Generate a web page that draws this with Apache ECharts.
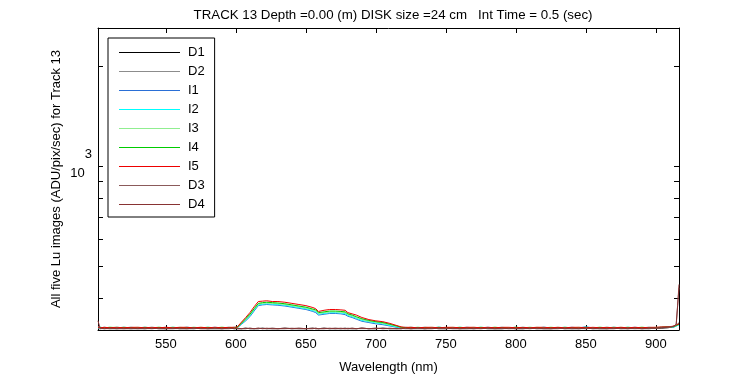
<!DOCTYPE html>
<html>
<head>
<meta charset="utf-8">
<script src="https://cdn.jsdelivr.net/npm/echarts@6/dist/echarts.min.js"></script>
<style>html,body{margin:0;padding:0;background:#fff;}#c{width:750px;height:375px;}</style>
</head>
<body>
<div id="c"></div>
<script>
const titleText = 'TRACK 13 Depth =0.00 (m) DISK size =24 cm   Int Time = 0.5 (sec)';
const xName = 'Wavelength (nm)';
const yName = 'All five Lu images (ADU/pix/sec) for Track 13';
const seriesNames = ['D1','D2','I1','I2','I3','I4','I5','D3','D4'];
const seriesColors = ['#000000','#8c8c8c','#2a6fd6','#00ffff','#90ee90','#00cc00','#ee0000','#8b5a5a','#883333'];
const xTicks = [550,600,650,700,750,800,850,900];
const yTicks = [400,500,600,700,800,900,1000,2000];
const yLabelTicks = [1000];

const wavelengths = [501.5,503,506,510,515,520,525,530,535,540,
 545,550,555,560,565,570,575,580,585,590,
 595,599,601,604,607,610,613,616,619,622,
 626,630,635,640,645,650,655,657,659,663,
 667,671,675,678,680,683,686,690,695,700,
 705,710,715,718,721,725,730,735,740,745,
 750,755,760,765,770,775,780,785,790,795,
 800,805,810,815,820,825,830,835,840,845,
 850,855,860,865,870,875,880,885,890,895,
 900,904,908,911,913,914.5,915.5,916.5];

const D1 = [324,324,325,324,324,325,324,324,324,325,
 324,324,325,324,324,324,325,324,324,324,
 325,324,324,324,325,324,324,324,325,324,
 324,324,325,324,324,324,325,324,324,325,
 324,324,324,325,324,324,324,325,324,324,
 325,324,324,324,325,324,324,324,325,324,
 324,325,324,324,324,325,324,324,324,325,
 324,324,325,324,324,324,325,324,324,324,
 325,324,324,324,325,324,324,325,324,324,
 325,325,326,327,328,331,334,336];
const D2 = [325,324,324,325,324,324,324,325,324,324,
 325,324,324,324,325,324,325,324,324,324,
 324,325,324,324,324,325,324,324,325,324,
 325,324,324,324,325,324,324,325,324,324,
 324,325,324,324,324,325,324,324,324,325,
 324,324,325,324,324,324,325,324,324,325,
 324,324,324,325,324,325,324,324,324,324,
 325,324,324,325,324,324,324,325,324,324,
 324,325,324,324,324,325,324,324,325,324,
 325,326,326,327,329,332,336,338];
const I1 = [326,326,327,326,326,327,326,326,327,326,
 326,327,326,326,327,326,326,326,327,326,
 326,327,326,334,342,352,366,380,382,383,
 382,381,379,376,373,370,365,362,356,358,
 360,360,359,357,353,350,346,341,338,335,
 333,330,327,326,326,327,326,326,326,327,
 326,326,326,327,326,326,327,326,326,326,
 327,326,326,326,327,326,326,326,327,326,
 328,326,326,326,327,326,326,327,326,326,
 326,327,328,328,329,330,332,333];
const I2 = [326,327,326,326,327,326,327,326,326,327,
 326,326,327,326,327,326,326,327,326,326,
 327,326,327,335,344,354,368,382,384,385,
 384,383,381,378,375,372,367,365,358,360,
 362,362,361,360,355,352,348,343,340,337,
 335,331,328,326,327,326,326,327,326,327,
 326,326,327,326,326,327,326,326,327,326,
 326,327,326,326,327,326,326,327,326,326,
 327,326,326,327,326,326,327,326,326,327,
 326,327,327,328,328,330,332,333];
const I3 = [327,326,326,327,327,326,326,327,326,326,
 327,326,326,327,326,326,327,326,326,327,
 326,327,327,336,345,356,370,384,386,387,
 386,385,383,380,377,374,369,367,360,362,
 364,364,363,362,357,354,350,345,341,339,
 336,333,329,327,326,327,326,326,327,326,
 326,327,326,326,327,326,326,327,326,326,
 327,326,326,327,326,326,327,326,326,327,
 326,326,327,326,326,327,326,326,327,326,
 327,327,327,328,329,331,333,334];
const I4 = [326,327,326,327,326,327,326,326,327,326,
 327,326,327,326,326,327,326,327,326,327,
 326,326,327,337,347,358,372,386,388,389,
 388,387,385,382,379,376,371,369,362,364,
 366,366,365,364,359,356,352,347,343,340,
 338,334,330,327,326,326,327,326,326,327,
 326,326,327,326,326,327,326,327,326,326,
 327,326,327,326,326,327,326,327,326,326,
 327,326,327,326,327,326,327,326,327,326,
 326,327,328,328,329,331,333,334];
const I5 = [327,326,327,326,327,326,327,327,326,327,
 326,327,326,327,327,326,327,326,327,326,
 327,327,328,339,350,362,377,391,392,393,
 391,391,389,386,383,380,375,372,365,368,
 370,370,369,368,362,359,356,350,345,342,
 340,336,331,328,327,327,326,327,327,326,
 327,327,326,327,327,326,327,326,327,327,
 326,327,326,327,327,326,327,326,327,327,
 326,327,326,327,326,327,326,327,326,327,
 327,328,328,329,330,332,334,335];
const D3 = [330,325,324,324,325,324,324,325,324,325,
 324,324,325,324,324,325,324,324,325,324,
 324,325,324,324,325,324,324,325,324,324,
 325,324,324,325,324,324,325,324,324,325,
 324,325,324,324,325,324,324,325,324,324,
 325,324,324,325,324,324,325,324,325,324,
 324,325,324,324,325,324,325,324,324,325,
 324,324,325,324,325,324,324,325,324,325,
 324,325,324,324,325,324,325,324,324,325,
 325,326,327,328,330,333,378,430];
const D4 = [342,325,324,325,324,324,325,324,325,324,
 325,324,324,325,324,325,324,324,325,324,
 325,324,325,324,324,325,324,325,324,325,
 324,324,325,324,325,324,324,325,324,324,
 325,324,325,324,324,325,324,325,324,325,
 324,325,324,324,325,324,325,324,324,325,
 325,324,324,325,324,324,325,324,325,324,
 324,325,324,325,324,324,325,324,325,324,
 325,324,325,324,324,325,324,325,324,325,
 325,326,327,328,330,334,380,440];

const seriesValues = [D1,D2,I1,I2,I3,I4,I5,D3,D4];
const FONT = '"Liberation Sans", Arial, Helvetica, sans-serif';

const chart = echarts.init(document.getElementById('c'), null, {renderer:'canvas'});

const series = seriesNames.map((name, k) => ({
  name: name,
  type: 'line',
  xAxisIndex: 0,
  yAxisIndex: 0,
  symbol: 'none',
  showSymbol: false,
  color: seriesColors[k],
  itemStyle: {color: seriesColors[k]},
  lineStyle: {color: seriesColors[k], width: 1},
  data: wavelengths.map((w, i) => [w, seriesValues[k][i]]),
  z: 2 + k
}));

const xMin = 501.5, xMax = 916.5, yMin = 321, yMax = 2600;

const axisCommonX = {
  type: 'value', min: xMin, max: xMax,
  axisLine: {show: true, onZero: false, lineStyle: {color: '#000', width: 1}},
  axisTick: {show: true, inside: true, length: 5, customValues: xTicks, lineStyle: {color: '#000', width: 1}},
  splitLine: {show: false}
};
const axisCommonY = {
  type: 'log', logBase: 10, min: yMin, max: yMax,
  axisLine: {show: true, onZero: false, lineStyle: {color: '#000', width: 1}},
  axisTick: {show: true, inside: true, length: 5, customValues: yTicks, lineStyle: {color: '#000', width: 1}},
  splitLine: {show: false},
  minorTick: {show: false}
};

chart.setOption({
  animation: false,
  backgroundColor: '#fff',
  textStyle: {fontFamily: FONT},
  title: {
    text: titleText, left: 388, textAlign: 'center', top: 4,
    textStyle: {fontSize: 13.3, fontWeight: 'normal', color: '#000', fontFamily: FONT}
  },
  grid: {left: 98, right: 71, top: 28, bottom: 45, show: false, outerBoundsMode: 'none', containLabel: false},
  legend: {
    orient: 'vertical', left: 108, top: 38,
    padding: [8, 10, 6, 11],
    icon: 'rect',
    itemWidth: 61, itemHeight: 1, itemGap: 6,
    borderColor: '#000', borderWidth: 1, backgroundColor: '#fff',
    textStyle: {fontSize: 13, color: '#000', fontFamily: FONT, padding: [0, 0, 0, 3]},
    data: seriesNames
  },
  xAxis: [
    Object.assign({}, axisCommonX, {
      position: 'bottom',
      name: xName, nameLocation: 'middle', nameGap: 31, nameMoveOverlap: false,
      nameTextStyle: {fontSize: 13, color: '#000', fontFamily: FONT},
      axisLabel: {customValues: xTicks, color: '#000', fontSize: 13, margin: 8, fontFamily: FONT}
    }),
    Object.assign({}, axisCommonX, {
      position: 'top',
      axisLabel: {show: false}
    })
  ],
  yAxis: [
    Object.assign({}, axisCommonY, {
      position: 'left',
      name: yName, nameLocation: 'middle', nameGap: 35, nameMoveOverlap: false,
      nameTextStyle: {fontSize: 13, color: '#000', fontFamily: FONT},
      axisLabel: {
        customValues: yLabelTicks, margin: 6,
        padding: [0, 0, 4, 0],
        formatter: function (v) { return '{a|10}{b|3}'; },
        rich: {
          a: {fontSize: 13, color: '#000', fontFamily: FONT, verticalAlign: 'bottom'},
          b: {fontSize: 13, color: '#000', fontFamily: FONT, verticalAlign: 'bottom', padding: [0, 0, 19, 0]}
        }
      }
    }),
    Object.assign({}, axisCommonY, {
      position: 'right',
      axisLabel: {show: false}
    })
  ],
  series: series
});
</script>
</body>
</html>
